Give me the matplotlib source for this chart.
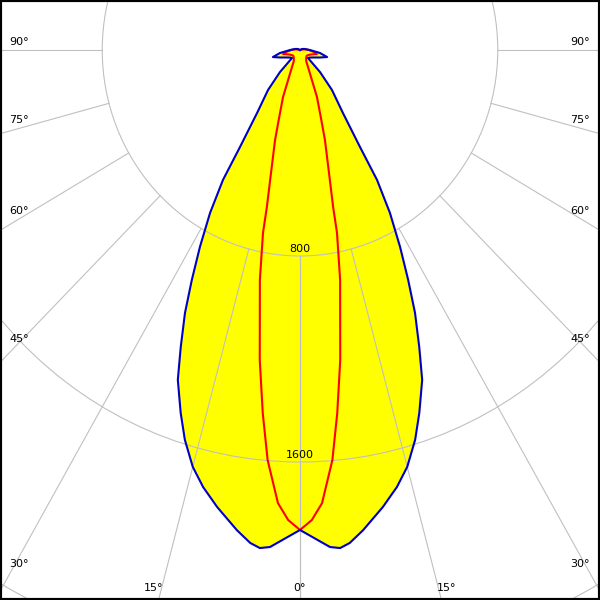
import numpy as np
import matplotlib.pyplot as plt
from matplotlib.patches import Circle

# C0-C180 plane (blue), gamma in degrees, intensity in cd
gamma_c0 = [0, 3.6, 4.8, 6.0, 7.8, 10.7, 13.0, 15.0, 17.1, 18.9, 21.1, 22.7, 24.5, 26.1,
            27.9, 29.9, 31.7, 32.8, 35.4, 39.8, 43.4, 46.2, 54.2, 64.3, 70.2, 76.0,
            81.8, 90, 101, 116, 120]
cd_c0 = [1864, 1934, 1941, 1925, 1882, 1806, 1742, 1676, 1584, 1490, 1373, 1250, 1122, 995,
         865, 730, 593, 448, 299, 202, 118, 45, 50, 67, 86, 113, 82, 40, 21, 9, 0]

# C90-C270 plane (red)
gamma_c90 = [0, 1.5, 2.9, 4.7, 6.1, 7.7, 9.5, 10.3, 11.9, 12.4, 13.8, 16.1, 17.8, 20.6,
             26.1, 30, 40, 50, 60, 70, 77, 82, 90, 100, 110]
cd_c90 = [1864, 1826, 1762, 1598, 1418, 1215, 984, 908, 726, 624, 492, 364, 277, 195,
          74, 50, 39, 35, 39, 50, 70, 58, 35, 16, 0]

rings = [800, 1600, 2400]
ring_labels = ["800", "1600", ""]
angle_ticks = [0, 15, 30, 45, 60, 75, 90]

sy = 0.2575        # px per cd, vertical
sx = sy * 0.96     # px per cd, horizontal (picture is a bit squeezed)


def to_xy(gam, cd):
    g = np.radians(np.concatenate([-np.array(gam)[::-1], np.array(gam)[1:]]))
    r = np.concatenate([np.array(cd)[::-1], np.array(cd)[1:]])
    return r * np.sin(g), -r * np.cos(g)


fig = plt.figure(figsize=(6, 6), dpi=100)
ax = fig.add_axes([0, 0, 1, 1])
ax.set_xlim(-300 / sx, 300 / sx)
ax.set_ylim(-550 / sy, 50 / sy)
ax.set_xticks([])
ax.set_yticks([])
for sp in ax.spines.values():
    sp.set_linewidth(3)
    sp.set_color('black')

x0, y0 = to_xy(gamma_c0, cd_c0)
x90, y90 = to_xy(gamma_c90, cd_c90)

ax.fill(x0, y0, color='#ffff00', zorder=1, lw=0)

grid_col = '#c0c0c0'
for r in rings:
    ax.add_patch(Circle((0, 0), r, fill=False, ec=grid_col, lw=0.8, zorder=2))
for a in angle_ticks:
    for s in (-1, 1):
        t = np.radians(a) * s
        ax.plot([800 * np.sin(t), 6000 * np.sin(t)], [-800 * np.cos(t), -6000 * np.cos(t)],
                color=grid_col, lw=0.8, zorder=2)

ax.plot(x0, y0, color='#0000c8', lw=1.5, zorder=4)
ax.plot(x90, y90, color='#ff0000', lw=1.5, zorder=3)

for r, lab in zip(rings, ring_labels):
    if lab:
        ax.text(0, -r + 7 / sy, lab, ha='center', va='center', fontsize=8, zorder=5)

for a in angle_ticks:
    t = np.radians(a)
    if a >= 30:
        # where the spoke meets the side edge, label sits a little above it
        y_hit = 300 / sx * np.cos(t) / np.sin(t)
        yy = -y_hit + (8 + 22 * np.cos(t)) / sy
        ax.text(-291 / sx, yy, f"{a}°", ha='left', va='center', fontsize=8)
        ax.text(290 / sx, yy, f"{a}°", ha='right', va='center', fontsize=8)
    else:
        xx = 570 / sy * np.tan(t)
        for s in ((-1, 1) if a else (1,)):
            ax.text(s * xx, -538 / sy, f"{a}°", ha='center', va='center', fontsize=8)

plt.savefig('out.png', dpi=100)
